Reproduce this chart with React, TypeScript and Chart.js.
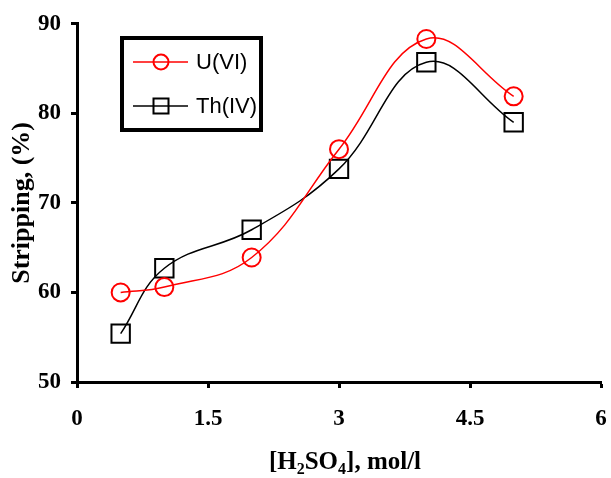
import React, { useEffect, useRef } from "react";
import { Chart, registerables } from "chart.js";

Chart.register(...registerables);

const xValues = [0.5, 1, 2, 3, 4, 5];
const uValues = [60.0, 60.6, 63.9, 76.0, 88.3, 81.9];
const thValues = [55.4, 62.7, 67.0, 73.8, 85.7, 79.0];
const seriesLabels = ["U(VI)", "Th(IV)"];
const xTicks = [0, 1.5, 3, 4.5, 6];
const yTitle = "Stripping, (%)";

const SERIF = "'Liberation Serif', 'Times New Roman', serif";
const SANS = "'Liberation Sans', Arial, sans-serif";

const legendPlugin = {
  id: "boxLegend",
  afterDraw(chart: any) {
    const ctx = chart.ctx;
    ctx.save();
    ctx.lineWidth = 4;
    ctx.strokeStyle = "#000";
    ctx.strokeRect(122, 38, 139, 92);
    const rows = [
      { y: 62, color: "#ff0000", shape: "circle", label: seriesLabels[0] },
      { y: 106, color: "#000000", shape: "square", label: seriesLabels[1] },
    ];
    for (const r of rows) {
      ctx.strokeStyle = r.color;
      ctx.lineWidth = 1.5;
      ctx.beginPath();
      ctx.moveTo(133, r.y);
      ctx.lineTo(188, r.y);
      ctx.stroke();
      ctx.lineWidth = 2;
      ctx.beginPath();
      if (r.shape === "circle") {
        ctx.arc(161, r.y, 7.5, 0, Math.PI * 2);
      } else {
        ctx.rect(153.5, r.y - 7.5, 15, 15);
      }
      ctx.stroke();
      ctx.fillStyle = "#000";
      ctx.font = `22px ${SANS}`;
      ctx.textBaseline = "middle";
      ctx.textAlign = "left";
      ctx.fillText(r.label, 196, r.y + 1);
    }
    ctx.restore();
  },
};

const xTitlePlugin = {
  id: "xTitle",
  afterDraw(chart: any) {
    const ctx = chart.ctx;
    ctx.save();
    ctx.fillStyle = "#000";
    ctx.textBaseline = "alphabetic";
    ctx.textAlign = "left";
    const main = `bold 25px ${SERIF}`;
    const sub = `bold 16px ${SERIF}`;
    const parts: [string, string, number][] = [
      ["[H", main, 0],
      ["2", sub, 5],
      ["SO", main, 0],
      ["4", sub, 5],
      ["], mol/l", main, 0],
    ];
    let total = 0;
    for (const [t, f] of parts) {
      ctx.font = f;
      total += ctx.measureText(t).width;
    }
    const area = chart.chartArea;
    let x = (area.left + area.right) / 2 - total / 2 + 6;
    const baseY = 469;
    for (const [t, f, dy] of parts) {
      ctx.font = f;
      ctx.fillText(t, x, baseY + dy);
      x += ctx.measureText(t).width;
    }
    ctx.restore();
  },
};

export default function App() {
  const ref = useRef<HTMLCanvasElement | null>(null);
  useEffect(() => {
    if (!ref.current) return;
    const chart = new Chart(ref.current, {
      type: "line",
      data: {
        datasets: [
          {
            label: seriesLabels[0],
            data: xValues.map((x, i) => ({ x, y: uValues[i] })),
            borderColor: "#ff0000",
            backgroundColor: "rgba(0,0,0,0)",
            borderWidth: 1.5,
            pointStyle: "circle",
            pointRadius: 9,
            pointBorderWidth: 2,
            pointBorderColor: "#ff0000",
            pointBackgroundColor: "rgba(0,0,0,0)",
            tension: 0.4,
          },
          {
            label: seriesLabels[1],
            data: xValues.map((x, i) => ({ x, y: thValues[i] })),
            borderColor: "#000000",
            backgroundColor: "rgba(0,0,0,0)",
            borderWidth: 1.5,
            pointStyle: "rect",
            pointRadius: 13,
            pointBorderWidth: 2,
            pointBorderColor: "#000000",
            pointBackgroundColor: "rgba(0,0,0,0)",
            tension: 0.4,
          },
        ],
      },
      options: {
        animation: false,
        responsive: true,
        maintainAspectRatio: false,
        layout: { autoPadding: false, padding: { top: 22, right: 10, left: 0, bottom: 0 } },
        plugins: {
          legend: { display: false },
          tooltip: { enabled: false },
        },
        scales: {
          x: {
            type: "linear",
            min: 0,
            max: 6,
            afterBuildTicks: (scale: any) => {
              scale.ticks = xTicks.map((v) => ({ value: v }));
            },
            afterFit: (scale: any) => {
              scale.height = 96;
              scale.paddingRight = 0;
              scale.paddingLeft = 0;
            },
            border: { display: true, color: "#000", width: 3 },
            grid: {
              display: true,
              drawOnChartArea: false,
              drawTicks: true,
              tickLength: 6,
              tickWidth: 3,
              tickColor: "#000",
            },
            ticks: {
              color: "#000",
              font: { family: SERIF, size: 23, weight: "bold" },
              padding: 17,
              maxRotation: 0,
              callback: (v: any) => String(v),
            },
          },
          y: {
            type: "linear",
            min: 50,
            max: 90,
            afterFit: (scale: any) => {
              scale.width = 77;
            },
            border: { display: true, color: "#000", width: 3 },
            grid: {
              display: true,
              drawOnChartArea: false,
              drawTicks: true,
              tickLength: 6,
              tickWidth: 3,
              tickColor: "#000",
            },
            ticks: {
              stepSize: 10,
              color: "#000",
              font: { family: SERIF, size: 23, weight: "bold" },
              padding: 10,
            },
            title: {
              display: true,
              text: yTitle,
              color: "#000",
              font: { family: SERIF, size: 26, weight: "bold" },
              padding: { top: 7, bottom: 0 },
            },
          },
        },
      },
      plugins: [legendPlugin, xTitlePlugin],
    } as any);
    return () => chart.destroy();
  }, []);
  return (
    <div style={{ position: "fixed", left: 0, top: 0, width: 611, height: 478, background: "#fff" }}>
      <canvas ref={ref} />
    </div>
  );
}
